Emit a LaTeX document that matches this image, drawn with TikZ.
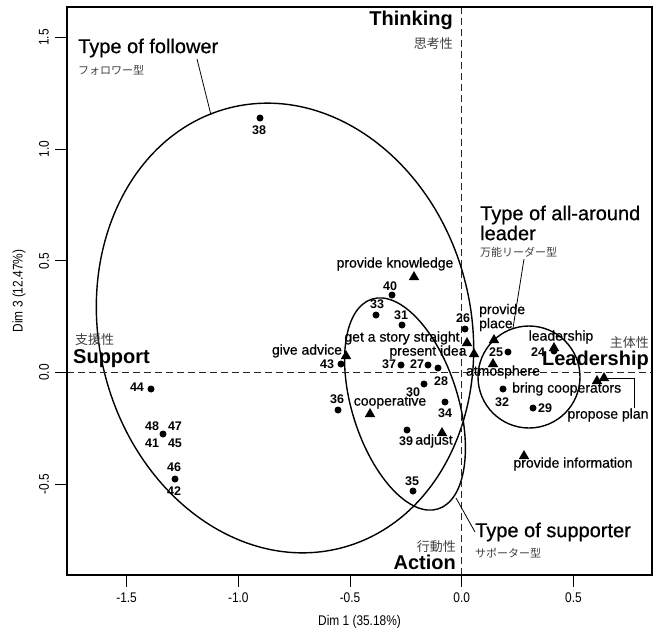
\documentclass[tikz,border=0pt]{standalone}
\usepackage{fontspec}
\setmainfont{Liberation Sans}
\newfontfamily\jpfont{Noto Sans CJK JP}
\newfontfamily\medfont[FakeBold=0.6]{Liberation Sans}
\newfontfamily\axisfont[FakeStretch=0.85]{Liberation Sans}
\usetikzlibrary{shapes.geometric}

\begin{document}
\begin{tikzpicture}[x=1pt,y=-1pt,
  dot/.style={circle,fill=black,inner sep=0pt,minimum size=7pt},
  tri/.style={regular polygon,regular polygon sides=3,fill=black,inner sep=0pt,minimum size=12pt},
  num/.style={inner sep=0pt,font=\bfseries\fontsize{12.5}{13}\selectfont},
  cat/.style={inner sep=0pt,font=\medfont\fontsize{14}{13}\selectfont},
  axisname/.style={inner sep=0pt,font=\bfseries\fontsize{20}{20}\selectfont},
  axisjp/.style={inner sep=0pt,text=black!75,font=\jpfont\fontsize{13}{13}\selectfont},
  typename/.style={inner sep=0pt,font=\medfont\fontsize{20}{20}\selectfont},
  typejp/.style={inner sep=0pt,text=black!75,font=\jpfont\fontsize{11}{11}\selectfont},
  ticklabel/.style={inner sep=0pt,font=\axisfont\fontsize{14}{14}\selectfont},
  group/.style={line width=1.4pt},
  leader/.style={line width=0.8pt},
  guide/.style={line width=1pt,black!85,dash pattern=on 7pt off 4pt},
]
\useasboundingbox (0,0) rectangle (661,637);

% group ellipses
\draw[group,rotate around={14:(285,328)}] (285,328) ellipse [x radius=186pt,y radius=227pt];
\draw[group,rotate around={17.5:(405,404)}] (405,404) ellipse [x radius=53pt,y radius=110pt];
\draw[group] (529,377) circle [radius=51pt];

% zero lines
\draw[guide] (461.7,7) -- (461.7,575);
\draw[guide] (67,372.5) -- (652,372.5);

% frame, ticks and axis titles
\draw[line width=1.2pt] (67,7) rectangle (652,575);
\foreach \v/\t [count=\i] in {-1.5/{-1.5},-1.0/{-1.0},-0.5/{-0.5},0/{0.0},0.5/{0.5}} {
  \draw[line width=1pt] ({461.7+223.4*\v},575) -- ({461.7+223.4*\v},587);
  \node[ticklabel] (xl\i) at ({461.7+223.4*\v},598) {\t};
}
\foreach \v/\t [count=\i] in {-0.5/{-0.5},0/{0.0},0.5/{0.5},1.0/{1.0},1.5/{1.5}} {
  \draw[line width=1pt] (67,{372.5-223.4*\v}) -- (55,{372.5-223.4*\v});
  \node[ticklabel,rotate=90] (yl\i) at (44,{372.5-223.4*\v}) {\t};
}
\node[ticklabel] (xtitle) at (359.5,622) {Dim 1 (35.18\%)};
\node[ticklabel,rotate=90] (ytitle) at (19,291) {Dim 3 (12.47\%)};

% individuals
\node[dot] (d38) at (260,118) {}; \node[num] (n38) at (259,130) {38};
\node[dot] (d40) at (392,295) {}; \node[num] (n40) at (390,286) {40};
\node[dot] (d33) at (376,315) {}; \node[num] (n33) at (377,304) {33};
\node[dot] (d31) at (402,325) {}; \node[num] (n31) at (401,315) {31};
\node[dot] (d26) at (465,329) {}; \node[num] (n26) at (463,318) {26};
\node[dot] (d43) at (341,364) {}; \node[num] (n43) at (327,364) {43};
\node[dot] (d37) at (401,365) {}; \node[num] (n37) at (389,364) {37};
\node[dot] (d27) at (428,365) {}; \node[num] (n27) at (417,364) {27};
\node[dot] (d28) at (438,368) {}; \node[num] (n28) at (441,381) {28};
\node[dot] (d30) at (424,384) {}; \node[num] (n30) at (413,392) {30};
\node[dot] (d34) at (445,402) {}; \node[num] (n34) at (445,413) {34};
\node[dot] (d36) at (338,410) {}; \node[num] (n36) at (337,399) {36};
\node[dot] (d39) at (407,430) {}; \node[num] (n39) at (406,441) {39};
\node[dot] (d35) at (413,491) {}; \node[num] (n35) at (412,481) {35};
\node[dot] (d25) at (508,352) {}; \node[num] (n25) at (496,352) {25};
\node[dot] (d24) at (554,351) {}; \node[num] (n24) at (538,352) {24};
\node[dot] (d32) at (503,389) {}; \node[num] (n32) at (502,402) {32};
\node[dot] (d29) at (533,408) {}; \node[num] (n29) at (545,408) {29};
\node[dot] (d44) at (151,389) {}; \node[num] (n44) at (137,387) {44};
\node[dot] (d41) at (163,434) {};
\node[num] (n48) at (152,426) {48}; \node[num] (n47) at (175,426) {47};
\node[num] (n41) at (152,443) {41}; \node[num] (n45) at (175,443) {45};
\node[dot] (d42) at (175,479) {};
\node[num] (n46) at (174,467) {46}; \node[num] (n42) at (174,491) {42};

% categories
\node[tri] (cKnowledge) at (414,277) {}; \node[cat] (lKnowledge) at (395,264) {provide knowledge};
\node[tri] (cStory) at (467,343) {}; \node[cat] (lStory) at (402,338) {get a story straight};
\node[tri] (cAdvice) at (346,356) {}; \node[cat] (lAdvice) at (307,351) {give advice};
\node[tri] (cIdea) at (474,354) {}; \node[cat] (lIdea) at (428,352) {present idea};
\node[tri] (cCoop) at (370,414) {}; \node[cat] (lCoop) at (390,402) {cooperative};
\node[tri] (cAdjust) at (442,433) {}; \node[cat] (lAdjust) at (434,441) {adjust};
\node[tri] (cPlace) at (494,340) {}; \node[cat,align=left,anchor=west] (lPlace) at (479,317.5) {provide\\place};
\node[tri] (cAtmos) at (493,364) {}; \node[cat] (lAtmos) at (503,372) {atmosphere};
\node[tri] (cLeadership) at (554,348) {}; \node[cat] (lLeadership) at (561,337) {leadership};
\node[tri] (cBring) at (597,381) {}; \node[cat,anchor=west] (lBring) at (512,389) {bring cooperators};
\node[tri] (cPlan) at (604,378) {}; \node[cat] (lPlan) at (608,415) {propose plan};
\node[tri] (cInfo) at (524,456) {}; \node[cat] (lInfo) at (573,464) {provide information};

\coordinate (kPlan) at (634,0);
\draw[leader] (cPlan.east) -- (cPlan.east -| kPlan) -- (kPlan |- lPlan.north);

% axis meanings
\node[axisname,anchor=east] (nThinking) at (453,20) {Thinking};
\node[axisjp,anchor=east] (jThinking) at (453,44) {思考性};
\node[axisjp,anchor=west] (jSupport) at (75,340) {支援性};
\node[axisname,anchor=west] (nSupport) at (73,359) {Support};
\node[axisjp,anchor=east] (jLeadership) at (649,343) {主体性};
\node[axisname,anchor=east] (nLeadership) at (649,360) {Leadership};
\node[axisjp,anchor=east] (jAction) at (456,547) {行動性};
\node[axisname,anchor=east] (nAction) at (456,562) {Action};

% group names
\node[typename,anchor=west] (tFollower) at (78,48) {Type of follower};
\node[typejp,anchor=west] (jFollower) at (78,70) {フォロワー型};
\node[typename,anchor=west,align=left] (tLeader) at (480,223) {Type of all-around\\leader};
\node[typejp,anchor=west] (jLeader) at (480,252) {万能リーダー型};
\node[typename,anchor=west] (tSupporter) at (475,532) {Type of supporter};
\node[typejp,anchor=west] (jSupporter) at (475,553) {サポーター型};

\coordinate (fStart) at (197,59);
\coordinate (fEnd) at (211,115);
\draw[leader] (fStart) -- (fEnd);
\coordinate (aStart) at (524,259);
\coordinate (aEnd) at (513,328);
\draw[leader] (aStart) -- (aEnd);
\coordinate (sEnd) at (456,498);
\draw[leader] (sEnd) -- (tSupporter.west);
\end{tikzpicture}
\end{document}
